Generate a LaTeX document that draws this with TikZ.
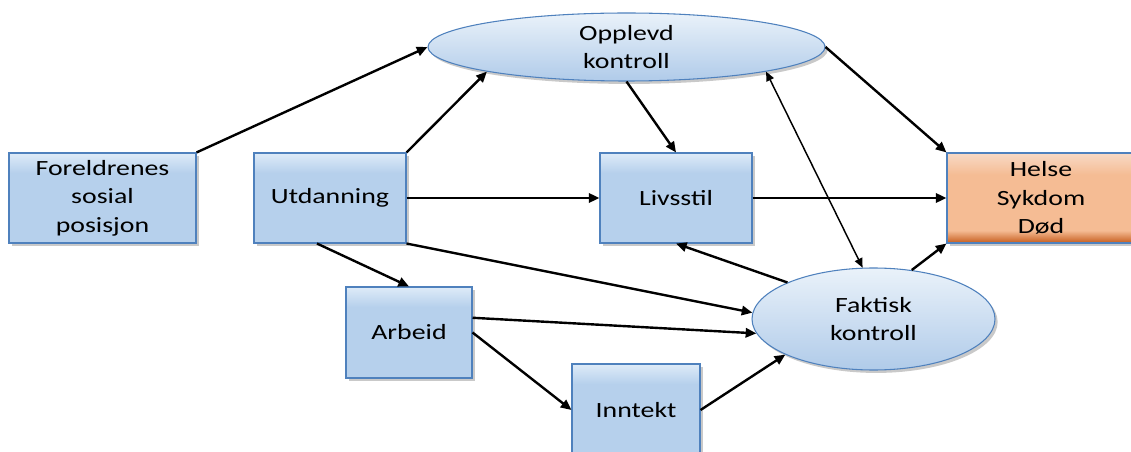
\documentclass[tikz,border=0pt]{standalone}
\usepackage{fontspec}
\setmainfont{Carlito}[FakeStretch=1.28]
\usetikzlibrary{shapes.geometric,arrows.meta,shadows,calc}

\definecolor{boxMain}{RGB}{182,208,236}
\definecolor{boxTop}{RGB}{222,235,248}
\definecolor{boxLine}{RGB}{79,129,189}
\definecolor{ovBot}{RGB}{176,203,233}
\definecolor{ovTop}{RGB}{234,242,250}
\definecolor{orTop}{RGB}{248,218,198}
\definecolor{orMid}{RGB}{245,188,148}
\definecolor{orBot}{RGB}{198,92,28}

% stops live between 25bp and 75bp, the part that is fitted to the path
\pgfdeclareverticalshading{boxshade}{100bp}{color(0bp)=(boxMain); color(25bp)=(boxMain); color(64bp)=(boxMain); color(75bp)=(boxTop); color(100bp)=(boxTop)}
\pgfdeclareverticalshading{ovalshade}{100bp}{color(0bp)=(ovBot); color(25bp)=(ovBot); color(75bp)=(ovTop); color(100bp)=(ovTop)}
\pgfdeclareverticalshading{helseshade}{100bp}{color(0bp)=(orBot); color(25bp)=(orBot); color(32bp)=(orMid); color(63bp)=(orMid); color(75bp)=(orTop); color(100bp)=(orTop)}

\tikzset{
  every node/.style={font=\fontsize{16.3}{21.4}\selectfont, align=center, inner sep=2pt},
  boxshadow/.style={drop shadow={shadow xshift=2pt, shadow yshift=-2.2pt, opacity=0.3, fill=black!70}},
  box/.style={rectangle, draw=boxLine, line width=0.8pt, shading=boxshade, boxshadow},
  helsebox/.style={rectangle, draw=boxLine, line width=0.8pt, shading=helseshade, boxshadow},
  oval/.style={ellipse, draw=boxLine, line width=0.8pt, shading=ovalshade, inner sep=0pt, boxshadow},
  conn/.style={-{Triangle[length=8pt,width=7pt]}, line width=1.8pt, black},
  both/.style={{Triangle[length=7pt,width=6pt]}-{Triangle[length=7pt,width=6pt]}, line width=1.1pt, black}
}

\begin{document}
\begin{tikzpicture}[x=0.75pt,y=-0.75pt]
\path[use as bounding box] (0,0) rectangle (1131,452);
\clip (0,0) rectangle (1131,452);

% boxes
\node[box, minimum width=140.25pt, minimum height=67.5pt] (fore) at (102.5,198) {Foreldrenes\\sosial\\posisjon};
\node[box, minimum width=114pt, minimum height=67.5pt] (utd) at (330,198) {Utdanning};
\node[box, minimum width=114pt, minimum height=67.5pt] (livs) at (676,198) {Livsstil};
\node[helsebox, minimum width=141pt, minimum height=67.5pt] (helse) at (1041,198) {Helse\\Sykdom\\Død};
\node[box, minimum width=94.5pt, minimum height=68.25pt] (arb) at (409,332.5) {Arbeid};
\node[box, minimum width=96pt, minimum height=69pt] (inn) at (636,410) {Inntekt};

% ovals
\node[oval, minimum width=297.75pt, minimum height=51pt] (opp) at (626.5,47) {};
\node (opptxt) at (opp.center) {Opplevd\\kontroll};
\node[oval, minimum width=182.25pt, minimum height=76.5pt] (fak) at (873.5,319) {};
\node (faktxt) at (fak.center) {Faktisk\\kontroll};

% connectors
\draw[conn] (fore.north east) -- (opp.west);
\draw[conn] (utd.north east) -- (opp.190);
\draw[conn] (utd.east) -- (livs.west);
\draw[conn] ($(utd.south)!0.17!(utd.south west)$) -- (arb.north);
\draw[conn] (utd.south east) -- (fak.177);
\draw[conn] ($(arb.east)!0.32!(arb.north east)$) -- (fak.187);
\draw[conn] (arb.east) -- (inn.west);
\draw[conn] (inn.east) -- (fak.202);
\draw[conn] (opp.south) -- (livs.north);
\draw[conn] (opp.east) -- (helse.north west);
\draw[both] (opp.-10) -- (fak.102);
\draw[conn] (fak.157) -- (livs.south);
\draw[conn] (livs.east) -- (helse.west);
\draw[conn] (fak.52) -- (helse.south west);
\end{tikzpicture}
\end{document}
